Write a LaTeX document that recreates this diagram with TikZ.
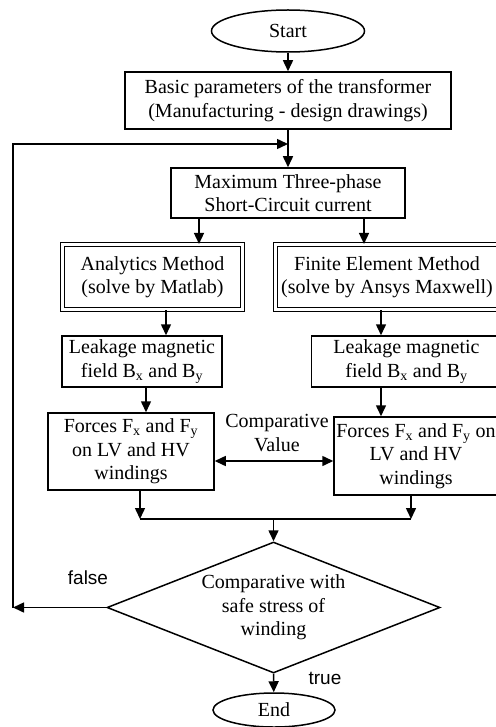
\documentclass[tikz,border=0pt]{standalone}
\usepackage{fontspec}
\setmainfont{Liberation Serif}
\setsansfont{Liberation Sans}
\usetikzlibrary{shapes,            % ellipse, diamond
                arrows.meta,       % pointes de fleches
                positioning}

\begin{document}
\begin{tikzpicture}[x=1pt,y=-1pt,line width=1.5pt,
  >={Triangle[length=11pt,width=10pt]},
  every node/.style={font=\fontsize{20}{23.5}\selectfont,align=center,inner sep=0pt},
  blk/.style={draw,rectangle},
  dblk/.style={draw,rectangle,double,line width=1.1pt,double distance=2.2pt},
  term/.style={draw,ellipse},
  dec/.style={draw,diamond,aspect=2.5},
  lbl/.style={font=\fontsize{19}{22}\sffamily}]
\useasboundingbox (0,0) rectangle (495,727);
% blocs
\node[term,minimum width=153,minimum height=42](start) at (288,31){Start};
\node[blk,minimum width=326,minimum height=57](basic) at (288,100.5){Basic parameters of the transformer\\(Manufacturing - design drawings)};
\node[blk,minimum width=234,minimum height=50](maxsc) at (288,193){Maximum Three-phase\\Short-Circuit current};
\node[dblk,minimum width=180,minimum height=65](anal) at (152.5,277){Analytics Method\\(solve by Matlab)};
\node[dblk,minimum width=223,minimum height=65](fem) at (387,277){Finite Element Method\\(solve by Ansys Maxwell)};
\node[blk,minimum width=160,minimum height=51](leakL) at (142,361.5){Leakage magnetic\\field B\textsubscript{x} and B\textsubscript{y}};
\node[blk,minimum width=190,minimum height=51](leakR) at (406.5,361.5){Leakage magnetic\\field B\textsubscript{x} and B\textsubscript{y}};
\node[blk,minimum width=166,minimum height=77](forcL) at (131,451.5){Forces F\textsubscript{x} and F\textsubscript{y}\\on LV and HV\\windings};
\node[blk,minimum width=164,minimum height=78](forcR) at (416,456){Forces F\textsubscript{x} and F\textsubscript{y} on\\LV and HV\\windings};
\node(cv) at (277,433){Comparative\\Value};
\node[dec,minimum width=333,minimum height=131](cmp) at (273.5,607.5){Comparative with\\safe stress of\\winding};
\node[term,minimum width=122,minimum height=34](fin) at (274,710){End};
\node[lbl](fls) at (88,578){false};
\node[lbl](tru) at (325,678){true};
% points de passage
\coordinate (jn) at (288,144);
\coordinate (lp) at (13,607.5);
\coordinate (cmpy) at (277,461);
\coordinate (mrg) at (273.5,519);
% liaisons
\draw[->] (start) -- (basic);
\draw[->] (basic) -- (maxsc);
\draw[->] ([xshift=-89pt]maxsc.south) -- ([xshift=-89pt]maxsc.south |- anal.north);
\draw[->] ([xshift=76pt]maxsc.south) -- ([xshift=76pt]maxsc.south |- fem.north);
\draw[->] ([xshift=13.5pt]anal.south) -- ([xshift=13.5pt]anal.south |- leakL.north);
\draw[->] ([xshift=-6pt]fem.south) -- ([xshift=-6pt]fem.south |- leakR.north);
\draw[->] ([xshift=4pt]leakL.south) -- ([xshift=4pt]leakL.south |- forcL.north);
\draw[->] ([xshift=-25.5pt]leakR.south) -- ([xshift=-25.5pt]leakR.south |- forcR.north);
\draw[<->] (forcL.east |- cmpy) -- (forcR.west |- cmpy);
\draw[->] ([xshift=-5pt]forcR.south) -- ([xshift=-5pt]forcR.south |- mrg);
\draw[->] ([xshift=9pt]forcL.south) -- ([xshift=9pt]forcL.south |- mrg);
\draw ([xshift=9pt]forcL.south |- mrg) -- ([xshift=-5pt]forcR.south |- mrg);
\draw[->] (mrg) -- (cmp.north);
\draw[->] (cmp.south) -- (fin);
\draw[->] (cmp.west) -- (lp);
\draw[->] (lp) |- (jn);
\end{tikzpicture}
\end{document}
